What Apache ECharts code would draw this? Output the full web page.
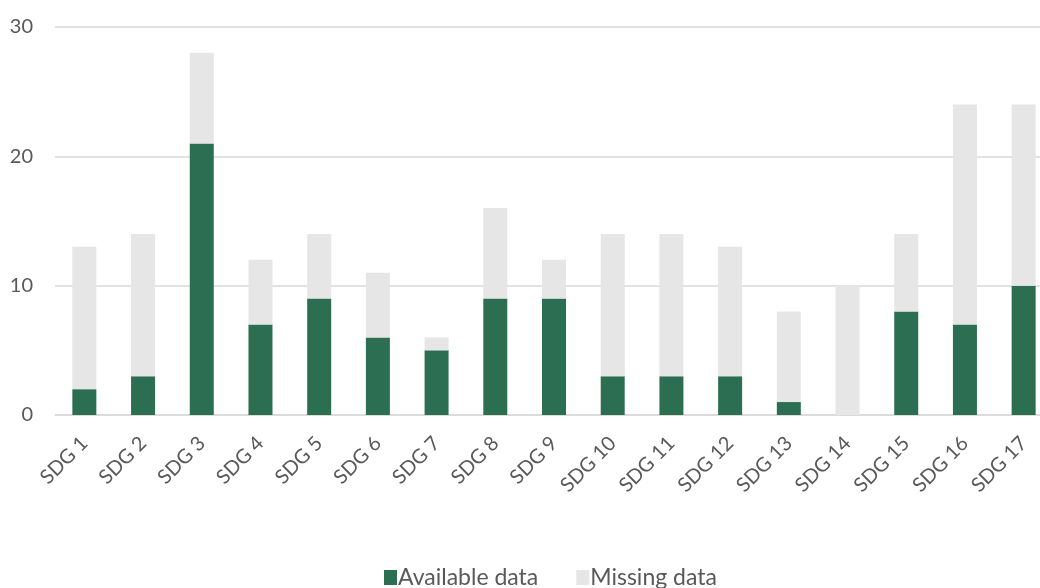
<!DOCTYPE html>
<html>
<head>
<meta charset="utf-8">
<script src="https://cdn.jsdelivr.net/npm/echarts@6/dist/echarts.min.js"></script>
<style>html,body{margin:0;padding:0;background:#fff}#c{width:1040px;height:588px}</style>
</head>
<body>
<div id="c"></div>
<script>
const categories = ['SDG 1','SDG 2','SDG 3','SDG 4','SDG 5','SDG 6','SDG 7','SDG 8','SDG 9','SDG 10','SDG 11','SDG 12','SDG 13','SDG 14','SDG 15','SDG 16','SDG 17'];
const available = [2,3,21,7,9,6,5,9,9,3,3,3,1,0,8,7,10];
const missing = [11,11,7,5,5,5,1,7,3,11,11,10,7,10,6,17,14];
const yTicks = [0,10,20,30];

const chart = echarts.init(document.getElementById('c'), null, {renderer:'canvas'});
const font = 'Lato, "Open Sans", sans-serif';
chart.setOption({
  animation:false,
  textStyle:{fontFamily:font},
  grid:{left:55, width:998, top:27, height:388, containLabel:false, outerBoundsMode:'none'},
  legend:{
    top:561, left:379, itemWidth:13, itemHeight:15, itemGap:38,
    icon:'rect',
    textStyle:{color:'#595959', fontSize:23, fontFamily:font, padding:[0,0,0,-4]},
    data:['Available data','Missing data']
  },
  xAxis:{
    type:'category', data:categories,
    axisTick:{show:false},
    axisLine:{lineStyle:{color:'#d9d9d9', width:1.5}},
    axisLabel:{rotate:45, color:'#595959', fontSize:20, fontFamily:font, margin:25, interval:0}
  },
  yAxis:{
    type:'value', min:yTicks[0], max:yTicks[yTicks.length-1], interval:10,
    axisLine:{show:false}, axisTick:{show:false},
    splitLine:{lineStyle:{color:'#d9d9d9', width:1.5}},
    axisLabel:{color:'#595959', fontSize:20, fontFamily:font, margin:22}
  },
  series:[
    {name:'Available data', type:'bar', stack:'a', data:available, barWidth:24, itemStyle:{color:'#2c6e52'}},
    {name:'Missing data', type:'bar', stack:'a', data:missing, barWidth:24, itemStyle:{color:'#e6e6e6'}}
  ]
});
</script>
</body>
</html>
